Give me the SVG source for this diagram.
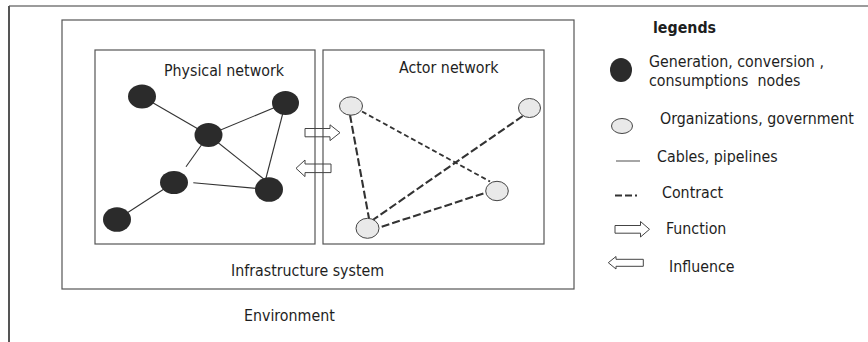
<svg xmlns="http://www.w3.org/2000/svg" width="868" height="342" viewBox="0 0 868 342">
<style>
  text { font-family: "DejaVu Sans Condensed", "Liberation Sans", sans-serif; font-size: 15.8px; fill: #1e1e1e; }
  .bold { font-weight: bold; }
  .frame { fill: none; stroke: #7a7a7a; stroke-width: 1.3; }
  .box { fill: none; stroke: #555; stroke-width: 1.2; }
  .pn { fill: #2b2b2b; }
  .an { fill: #e9e9e9; stroke: #444; stroke-width: 1; }
  .cable { stroke: #333; stroke-width: 1.1; fill: none; }
  .contract { stroke: #333; stroke-width: 2.1; stroke-dasharray: 8 3; fill: none; }
  .contract-thin { stroke: #333; stroke-width: 1.8; stroke-dasharray: 5 3; fill: none; }
  .arrow { fill: none; stroke: #444; stroke-width: 1; }
</style>

<!-- Environment frame -->
<g id="environment">
  <line x1="9" y1="6" x2="868" y2="6" class="frame"/>
  <line x1="9" y1="6" x2="9" y2="342" stroke="#555" stroke-width="2"/>
  <text x="244" y="321">Environment</text>
</g>

<!-- Infrastructure system -->
<g id="infrastructure">
  <rect x="62" y="20" width="512" height="269" class="box"/>
  <text x="231" y="276">Infrastructure system</text>
</g>

<g id="physical-network">
  <rect x="95" y="50" width="220" height="194" class="box"/>
  <text x="164" y="76">Physical network</text>
</g>

<g id="actor-network">
  <rect x="323" y="50" width="221" height="194" class="box"/>
  <text x="399" y="73">Actor network</text>
</g>

<!-- Connectors -->
<g id="connectors">
  <line x1="142" y1="96.5" x2="208.5" y2="135" class="cable"/>
  <line x1="208.5" y1="135" x2="285.5" y2="103" class="cable"/>
  <line x1="208.5" y1="135" x2="265" y2="180" class="cable"/>
  <line x1="285.5" y1="103" x2="265.5" y2="180" class="cable"/>
  <line x1="208.5" y1="135" x2="186" y2="166.7" class="cable"/>
  <line x1="193.3" y1="182.7" x2="269" y2="189.5" class="cable"/>
  <line x1="117" y1="219.5" x2="174" y2="182.5" class="cable"/>

  <line x1="362" y1="111.5" x2="490" y2="181.5" class="contract-thin"/>
  <line x1="350" y1="115" x2="369" y2="218.5" class="contract"/>
  <line x1="522.7" y1="116" x2="372.7" y2="220" class="contract"/>
  <line x1="381.7" y1="226.7" x2="485.7" y2="192.7" class="contract"/>

  <polygon id="function-arrow" class="arrow" points="305,128.5 330,128.5 330,124.8 340,132.7 330,140.6 330,136.8 305,136.8"/>
  <polygon id="influence-arrow" class="arrow" points="296,168.3 305,160 305,164 331,164 331,172.6 305,172.6 305,176.6"/>
</g>

<!-- Physical nodes -->
<g id="p1"><ellipse cx="142" cy="96.5" rx="14" ry="12" class="pn"/></g>
<g id="p2"><ellipse cx="285.5" cy="103" rx="13.5" ry="12" class="pn"/></g>
<g id="p3"><ellipse cx="208.5" cy="135" rx="14" ry="12" class="pn"/></g>
<g id="p4"><ellipse cx="174" cy="182.5" rx="14" ry="11.5" class="pn"/></g>
<g id="p5"><ellipse cx="269" cy="189.5" rx="14" ry="12.3" class="pn"/></g>
<g id="p6"><ellipse cx="117" cy="219.5" rx="14" ry="12.3" class="pn"/></g>

<!-- Actor nodes -->
<g id="a1"><ellipse cx="351" cy="106" rx="11.5" ry="9.2" class="an"/></g>
<g id="a2"><ellipse cx="529.5" cy="108" rx="11" ry="9.5" class="an"/></g>
<g id="a3"><ellipse cx="497" cy="191" rx="11.3" ry="9.7" class="an"/></g>
<g id="a4"><ellipse cx="367.5" cy="228.3" rx="11.5" ry="10" class="an"/></g>

<!-- Legend -->
<g id="legend">
  <text x="653" y="33" class="bold">legends</text>
  <ellipse cx="621" cy="70" rx="11" ry="12" class="pn"/>
  <text x="649" y="67">Generation, conversion ,</text>
  <text x="649" y="86" xml:space="preserve">consumptions  nodes</text>
  <ellipse cx="622" cy="126" rx="10.5" ry="7.5" class="an"/>
  <text x="660" y="124">Organizations, government</text>
  <line x1="616" y1="161" x2="640" y2="161" stroke="#888" stroke-width="1.5"/>
  <text x="657" y="162">Cables, pipelines</text>
  <line x1="615" y1="195.5" x2="640" y2="195.5" stroke="#333" stroke-width="2" stroke-dasharray="7 3 7 3 2 50"/>
  <text x="662" y="198">Contract</text>
  <polygon class="arrow" points="615,225.5 640.5,225.5 640.5,221.5 649.5,229.3 640.5,237 640.5,233.2 615,233.2"/>
  <text x="666" y="234">Function</text>
  <polygon class="arrow" points="608.3,262.7 616,256.5 616,259.3 643.3,259.3 643.3,266.3 616,266.3 616,269"/>
  <text x="669" y="272">Influence</text>
</g>
</svg>
